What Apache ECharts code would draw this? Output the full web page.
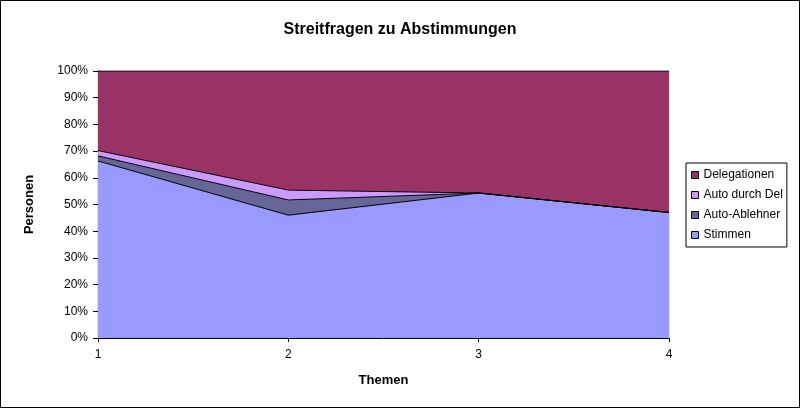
<!DOCTYPE html>
<html>
<head>
<meta charset="utf-8">
<script src="https://cdn.jsdelivr.net/npm/echarts@6/dist/echarts.min.js"></script>
<style>
html,body{margin:0;padding:0;background:#fff;}
#c{width:800px;height:408px;}
</style>
</head>
<body>
<div id="c"></div>
<script>
var categories = ['1', '2', '3', '4'];
var stimmen = [66.3, 46.0, 54.3, 47.0];
var autoAblehner = [1.9, 5.7, 0, 0];
var autoDurchDel = [2.0, 3.7, 0, 0];
var delegationen = [29.8, 44.6, 45.7, 53.0];
var seriesNames = ['Stimmen', 'Auto-Ablehner', 'Auto durch Del', 'Delegationen'];
var seriesColors = ['#9999FF', '#666699', '#CC99FF', '#993366'];
var seriesData = [stimmen, autoAblehner, autoDurchDel, delegationen];

var FONT = 'Liberation Sans, Arial, sans-serif';
var chart = echarts.init(document.getElementById('c'));
var series = seriesNames.map(function (n, i) {
  return {
    name: n,
    type: 'line',
    stack: 'total',
    data: seriesData[i],
    symbol: 'none',
    color: seriesColors[i],
    itemStyle: { color: seriesColors[i] },
    lineStyle: { color: '#000', width: 1 },
    areaStyle: { color: seriesColors[i], opacity: 1 },
    emphasis: { disabled: true },
    animation: false
  };
});

chart.setOption({
  animation: false,
  textStyle: { fontFamily: FONT },
  title: {
    text: 'Streitfragen zu Abstimmungen',
    left: 'center',
    top: 17,
    textStyle: { fontFamily: FONT, fontSize: 16, fontWeight: 'bold', color: '#000' }
  },
  graphic: [{
    type: 'rect',
    shape: { x: 0.5, y: 0.5, width: 799, height: 407 },
    style: { fill: 'none', stroke: '#000', lineWidth: 1 },
    silent: true
  }],
  grid: {
    left: 98, right: 131, top: 71, bottom: 70,
    show: true, backgroundColor: '#c0c0c0', borderColor: '#c0c0c0', borderWidth: 1
  },
  legend: {
    orient: 'vertical',
    left: 686,
    top: 163,
    padding: [6, 4, 6, 5],
    itemGap: 8,
    itemWidth: 7,
    itemHeight: 7,
    itemTextGap: 4,
    icon: 'rect',
    borderColor: '#000',
    borderWidth: 1,
    backgroundColor: '#fff',
    selectedMode: false,
    itemStyle: { borderColor: '#000', borderWidth: 1 },
    textStyle: { fontFamily: FONT, fontSize: 12, color: '#000' },
    data: ['Delegationen', 'Auto durch Del', 'Auto-Ablehner', 'Stimmen']
  },
  xAxis: {
    type: 'category',
    data: categories,
    boundaryGap: false,
    name: 'Themen',
    nameLocation: 'middle',
    nameGap: 36,
    nameTextStyle: { fontFamily: FONT, fontSize: 13, fontWeight: 'bold', color: '#000' },
    axisLine: { lineStyle: { color: '#000', width: 1 } },
    axisTick: { show: true, length: 4, lineStyle: { color: '#000' } },
    axisLabel: { margin: 11, fontFamily: FONT, fontSize: 12, color: '#000' },
    splitLine: { show: false }
  },
  yAxis: {
    type: 'value',
    min: 0,
    max: 100,
    interval: 10,
    name: 'Personen',
    nameLocation: 'middle',
    nameRotate: 90,
    nameGap: 62,
    nameTextStyle: { fontFamily: FONT, fontSize: 13, fontWeight: 'bold', color: '#000' },
    axisLine: { show: true, lineStyle: { color: '#000', width: 1 } },
    axisTick: { show: true, length: 5, lineStyle: { color: '#000' } },
    axisLabel: { margin: 10, formatter: '{value}%', fontFamily: FONT, fontSize: 12, color: '#000' },
    splitLine: { show: false }
  },
  series: series
});
</script>
</body>
</html>
